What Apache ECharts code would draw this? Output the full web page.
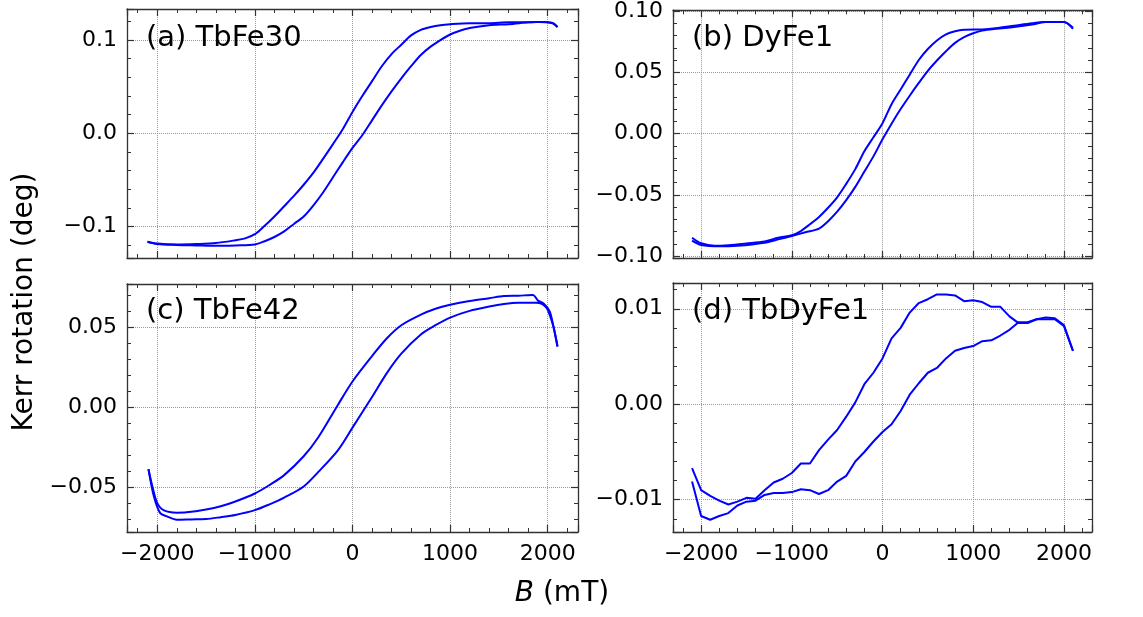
<!DOCTYPE html>
<html><head><meta charset="utf-8">
<script src="https://cdn.jsdelivr.net/npm/echarts@6/dist/echarts.min.js"></script>
<style>html,body{margin:0;padding:0;background:#fff}#chart{width:1143px;height:617px}</style>
</head><body><div id="chart"></div>
<script>
// ---------- data (B in mT, Kerr rotation in deg) ----------
const panelLabels = ['(a) TbFe30', '(b) DyFe1', '(c) TbFe42', '(d) TbDyFe1'];
const xTickValues = [-2000, -1000, 0, 1000, 2000];
const yTickValuesA = [-0.1, 0, 0.1];
const yTickValuesB = [-0.1, -0.05, 0, 0.05, 0.1];
const yTickValuesC = [-0.05, 0, 0.05];
const yTickValuesD = [-0.01, 0, 0.01];

const fieldA1 = [-2100,-2000,-1800,-1600,-1400,-1200,-1100,-1000,-900,-800,-700,-600,-500,-400,-300,-200,-100,0,100,200,300,400,500,600,700,800,900,1000,1200,1400,1600,1800,1950,2050,2100];
const kerrA1  = [-0.116,-0.118,-0.119,-0.1185,-0.1175,-0.1145,-0.1125,-0.108,-0.099,-0.089,-0.078,-0.067,-0.055,-0.042,-0.027,-0.0115,0.0045,0.023,0.040,0.056,0.072,0.085,0.095,0.105,0.111,0.114,0.116,0.117,0.118,0.118,0.119,0.119,0.1195,0.118,0.114];
const fieldA2 = [-2100,-2000,-1800,-1600,-1400,-1200,-1000,-900,-800,-700,-600,-500,-400,-300,-200,-100,0,100,200,300,400,500,600,700,800,900,1000,1100,1200,1400,1600,1800,1900,2000,2060,2100];
const kerrA2  = [-0.116,-0.1185,-0.1195,-0.120,-0.1205,-0.120,-0.119,-0.1155,-0.111,-0.105,-0.097,-0.089,-0.077,-0.063,-0.047,-0.031,-0.0155,-0.002,0.014,0.030,0.045,0.059,0.072,0.084,0.093,0.100,0.106,0.110,0.113,0.116,0.117,0.119,0.1195,0.119,0.118,0.114];

const fieldB1 = [-2100,-2000,-1850,-1700,-1500,-1300,-1150,-1000,-900,-800,-700,-600,-500,-400,-300,-200,-100,0,100,200,300,400,500,600,700,800,900,1100,1250,1450,1650,1800,2000,2100];
const kerrB1  = [-0.085,-0.0895,-0.0915,-0.091,-0.0896,-0.088,-0.085,-0.083,-0.0795,-0.074,-0.068,-0.0605,-0.052,-0.041,-0.029,-0.0145,-0.003,0.0085,0.024,0.036,0.048,0.060,0.069,0.076,0.081,0.0835,0.0847,0.085,0.086,0.088,0.090,0.091,0.091,0.0855];
const fieldB2 = [-2100,-2000,-1800,-1600,-1300,-1150,-1000,-850,-700,-600,-500,-400,-300,-200,-100,0,100,200,300,400,500,600,700,800,900,1000,1100,1250,1450,1650,1800,2000,2100];
const kerrB2  = [-0.0874,-0.0909,-0.092,-0.0915,-0.089,-0.0863,-0.0835,-0.0805,-0.0775,-0.0715,-0.0637,-0.0543,-0.0435,-0.031,-0.0186,-0.0047,0.0081,0.020,0.0309,0.0413,0.0512,0.0596,0.0672,0.074,0.0787,0.0818,0.084,0.0855,0.087,0.089,0.091,0.091,0.0863];

const fieldC1 = [-2090,-2050,-2000,-1930,-1800,-1700,-1500,-1350,-1200,-1000,-850,-700,-500,-350,-150,0,200,350,500,700,850,1000,1200,1400,1550,1700,1850,1900,1960,2020,2060,2100];
const kerrC1  = [-0.0388,-0.0496,-0.060,-0.0646,-0.066,-0.0658,-0.064,-0.062,-0.059,-0.054,-0.0487,-0.0425,-0.0307,-0.0188,0.0014,0.0161,0.032,0.043,0.0513,0.0579,0.0616,0.0641,0.0665,0.0682,0.0696,0.0698,0.0702,0.0667,0.0648,0.060,0.050,0.038];
const fieldC2 = [-2090,-2035,-1970,-1900,-1800,-1650,-1500,-1350,-1200,-1000,-850,-700,-500,-350,-150,0,200,350,500,700,850,1000,1200,1400,1550,1700,1880,1940,1990,2020,2060,2100];
const kerrC2  = [-0.0388,-0.0558,-0.0663,-0.0683,-0.0704,-0.0702,-0.070,-0.0688,-0.0674,-0.0644,-0.0608,-0.0566,-0.0496,-0.0405,-0.027,-0.0128,0.0064,0.0212,0.0335,0.0455,0.0513,0.0561,0.0603,0.063,0.0646,0.0654,0.0654,0.0646,0.0619,0.0577,0.050,0.038];

const fieldD = [-2100,-2000,-1900,-1800,-1700,-1600,-1500,-1400,-1300,-1200,-1100,-1000,-900,-800,-700,-600,-500,-400,-300,-200,-100,0,100,200,300,400,500,600,700,800,900,1000,1100,1200,1300,1400,1500,1600,1700,1800,1900,2000,2100];
const kerrD1 = [-0.0067,-0.009,-0.0096,-0.0101,-0.0105,-0.0102,-0.0098,-0.0099,-0.009,-0.0082,-0.0078,-0.0072,-0.0062,-0.0062,-0.0048,-0.0037,-0.0027,-0.0013,0.0002,0.0021,0.0033,0.0048,0.0069,0.008,0.0096,0.0106,0.011,0.0115,0.0115,0.0114,0.0108,0.0109,0.0107,0.0102,0.0102,0.0092,0.0085,0.0085,0.0089,0.0089,0.0089,0.0082,0.0056];
const kerrD2 = [-0.0081,-0.0117,-0.0121,-0.0117,-0.0114,-0.0106,-0.0102,-0.0101,-0.0095,-0.0093,-0.0093,-0.0092,-0.0089,-0.009,-0.0094,-0.009,-0.0081,-0.0075,-0.006,-0.005,-0.0039,-0.0029,-0.0021,-0.0007,0.001,0.0022,0.0033,0.0038,0.0048,0.0056,0.0059,0.0061,0.0066,0.0067,0.0072,0.0078,0.0086,0.0086,0.0089,0.0091,0.009,0.0083,0.0056];

// ---------- layout / style ----------
const FONT = 'DejaVu Sans';
const TICK_FS = 22;
const LINE_COLOR = '#0000ff';
const FRAME = '#333333';
const panels = [
  { grid: {left:127, top:9,   width:451, height:249}, ymin:-0.1335, ymax:0.1333, yint:0.1,  ticks:yTickValuesA, dec:1, xlabels:false,
    series:[[fieldA1,kerrA1],[fieldA2,kerrA2]], smooth:0.3, label:{x:146,y:38} },
  { grid: {left:673, top:10,  width:419, height:248}, ymin:-0.1015, ymax:0.1006, yint:0.05, ticks:yTickValuesB, dec:2, xlabels:false,
    series:[[fieldB1,kerrB1],[fieldB2,kerrB2]], smooth:0.3, label:{x:692,y:38} },
  { grid: {left:127, top:284, width:451, height:248}, ymin:-0.0781, ymax:0.0771, yint:0.05, ticks:yTickValuesC, dec:2, xlabels:true,
    series:[[fieldC1,kerrC1],[fieldC2,kerrC2]], smooth:0.3, label:{x:146,y:311} },
  { grid: {left:673, top:283, width:419, height:249}, ymin:-0.01338, ymax:0.0127, yint:0.01, ticks:yTickValuesD, dec:2, xlabels:true,
    series:[[fieldD,kerrD1],[fieldD,kerrD2]], smooth:false, label:{x:692,y:311} }
];

function fmt(v, dec) {
  if (Math.abs(v) < 1e-12) v = 0;
  return v.toFixed(dec).replace('-', '\u2212');
}
function inList(v, list, tol) { return list.some(t => Math.abs(t - v) < tol); }

const grids = [], xAxes = [], yAxes = [], series = [], graphics = [];
panels.forEach((p, i) => {
  grids.push(Object.assign({containLabel:false}, p.grid));
  const common = {
    gridIndex: i, type: 'value',
    axisLine: {show:true, onZero:false, lineStyle:{color:FRAME, width:1.3}},
    axisTick: {show:true, inside:true, length:7, lineStyle:{color:FRAME, width:1.2}},
    minorTick: {show:true, splitNumber:5, length:4, lineStyle:{color:FRAME, width:1}},
  };
  const xBase = Object.assign({}, common, {min:-2310, max:2310, minInterval:1000, maxInterval:1000, splitNumber:4});
  xAxes.push(Object.assign({}, xBase, {
    position:'bottom',
    splitLine:{show:true, lineStyle:{color:'#9a9a9a', type:'dotted', width:1}},
    axisLabel:{show:p.xlabels, margin:11, fontFamily:FONT, fontSize:TICK_FS, color:'#000',
      formatter: v => inList(v, xTickValues, 1e-6) ? fmt(v, 0) : ''}
  }));
  xAxes.push(Object.assign({}, xBase, {position:'top', splitLine:{show:false}, axisLabel:{show:false}}));
  const tol = p.yint * 1e-3;
  const yBase = Object.assign({}, common, {min:p.ymin, max:p.ymax, minInterval:p.yint, maxInterval:p.yint, splitNumber:3});
  yAxes.push(Object.assign({}, yBase, {
    position:'left',
    splitLine:{show:true, lineStyle:{color:'#9a9a9a', type:'dotted', width:1}},
    axisLabel:{show:true, margin:10, fontFamily:FONT, fontSize:TICK_FS, color:'#000',
      formatter: v => inList(v, p.ticks, tol) ? fmt(v, p.dec) : ''}
  }));
  yAxes.push(Object.assign({}, yBase, {position:'right', splitLine:{show:false}, axisLabel:{show:false}}));
  p.series.forEach(([xs, ys]) => {
    series.push({
      type:'line', xAxisIndex: 2*i, yAxisIndex: 2*i,
      data: xs.map((x, k) => [x, ys[k]]),
      showSymbol:false, symbol:'none', smooth:p.smooth,
      lineStyle:{color:LINE_COLOR, width:2}, itemStyle:{color:LINE_COLOR},
      animation:false, silent:true, z:3
    });
  });
  graphics.push({type:'text', x:p.label.x, y:p.label.y, z:10,
    style:{text:panelLabels[i], font:'29px "DejaVu Sans"', fill:'#000', textAlign:'left', textVerticalAlign:'middle'}});
});

graphics.push({type:'text', x:25, y:302, rotation:Math.PI/2, z:10,
  style:{text:'Kerr rotation (deg)', font:'28px "DejaVu Sans"', fill:'#000', textAlign:'center', textVerticalAlign:'middle'}});
graphics.push({type:'text', x:562, y:594, z:10,
  style:{text:'{i|B} (mT)', font:'28px "DejaVu Sans"', fill:'#000', textAlign:'center', textVerticalAlign:'middle',
    rich:{i:{fontStyle:'italic', fontFamily:FONT, fontSize:28, fill:'#000'}}}});

const chart = echarts.init(document.getElementById('chart'), null, {renderer:'canvas'});
chart.setOption({
  animation:false,
  backgroundColor:'#fff',
  grid: grids, xAxis: xAxes, yAxis: yAxes, series: series, graphic: graphics
});
</script>
</body></html>
